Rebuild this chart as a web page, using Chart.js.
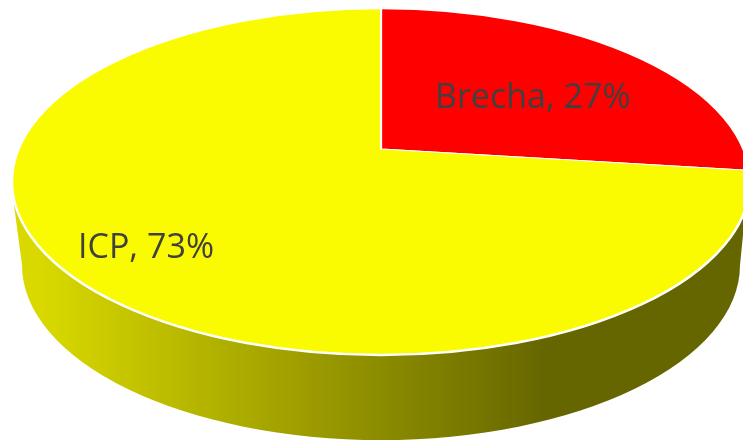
<!DOCTYPE html>
<html lang="en">
<head>
    <meta charset="UTF-8">
    <title>Brecha / ICP</title>
    <script src="https://cdn.jsdelivr.net/npm/chart.js"></script>
    <style>
        body { margin: 0; background: #fff; overflow: hidden; }
        canvas { display: block; }
    </style>
</head>
<body>
    <canvas id="pie" width="743" height="440"></canvas>
    <script>
        var labels = ['Brecha', 'ICP'];
        var values = [27, 73];
        var colors = ['#ff0000', '#fafa00'];

        // top face of the disc, and where the slices meet (perspective moves it off centre)
        var top3d = { x: 381, y: 181.5, rx: 369, ry: 173.5 };
        var low3d = { x: 381, y: 265, rx: 359, ry: 175 };
        var apex = { x: 381, y: 149, sx: 2.17, sy: 1 };
        var textAt = [{ x: 435, y: 108 }, { x: 78, y: 258 }];

        var pie3d = {
            id: 'pie3d',
            beforeDatasetsDraw: function (chart) {
                var ctx = chart.ctx;
                var arc = chart.getDatasetMeta(0).data[0];

                // side wall
                var grad = ctx.createLinearGradient(40, 0, 545, 0);
                grad.addColorStop(0, '#d9d900');
                grad.addColorStop(1, '#666600');
                ctx.save();
                ctx.fillStyle = grad;
                ctx.beginPath();
                ctx.moveTo(14, 205);
                ctx.lineTo(low3d.x - low3d.rx, low3d.y);
                ctx.ellipse(low3d.x, low3d.y, low3d.rx, low3d.ry, 0, Math.PI, 0, true);
                ctx.lineTo(746, 205);
                ctx.closePath();
                ctx.fill();
                ctx.restore();

                // squash the library's pie into the top face
                ctx.save();
                ctx.beginPath();
                ctx.ellipse(top3d.x, top3d.y, top3d.rx, top3d.ry, 0, 0, Math.PI * 2);
                ctx.clip();
                ctx.translate(apex.x, apex.y);
                ctx.scale(apex.sx, apex.sy);
                ctx.translate(-arc.x, -arc.y);
            },
            afterDatasetsDraw: function (chart) {
                var ctx = chart.ctx;
                ctx.restore();

                ctx.save();
                ctx.strokeStyle = '#fff';
                ctx.lineWidth = 2.5;
                ctx.beginPath();
                ctx.ellipse(top3d.x, top3d.y, top3d.rx, top3d.ry, 0, 0, Math.PI * 2);
                ctx.stroke();

                ctx.fillStyle = '#404040';
                ctx.font = '34px "Open Sans", sans-serif';
                labels.forEach(function (name, i) {
                    ctx.fillText(name + ', ' + values[i] + '%', textAt[i].x, textAt[i].y);
                });
                ctx.restore();
            }
        };

        new Chart(document.getElementById('pie').getContext('2d'), {
            type: 'pie',
            data: {
                labels: labels,
                datasets: [{
                    data: values,
                    backgroundColor: colors,
                    borderColor: '#fff',
                    borderWidth: 1
                }]
            },
            options: {
                responsive: false,
                animation: false,
                plugins: { legend: { display: false }, tooltip: { enabled: false } }
            },
            plugins: [pie3d]
        });
    </script>
</body>
</html>
